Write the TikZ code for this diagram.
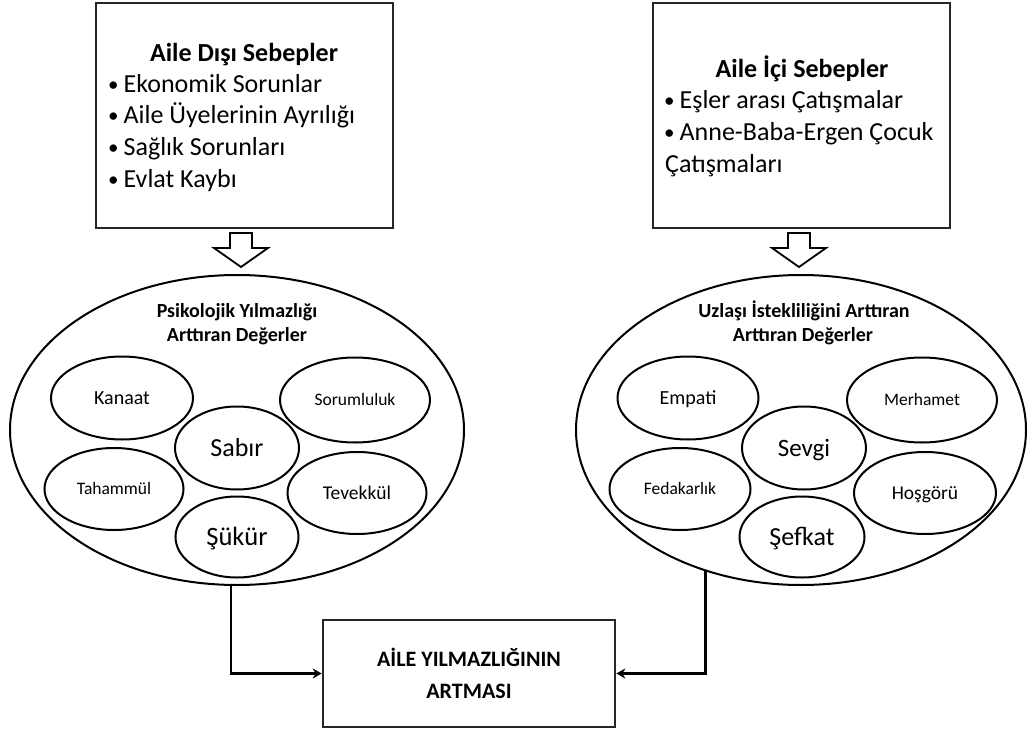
\documentclass[tikz,border=0pt]{standalone}
\usepackage{fontspec}
\setmainfont{Carlito}
\usetikzlibrary{shapes.geometric,arrows.meta,calc}
\newcommand{\mybul}{{\fontsize{21}{21}\selectfont\raisebox{1pt}{•}}\hspace{5pt}}
\begin{document}
\begin{tikzpicture}[x=1pt,y=-1pt,
  boxframe/.style={draw=black!85,line width=2.6pt,rectangle,inner sep=0pt},
  bigell/.style={draw=black,line width=2pt,ellipse,inner sep=0pt},
  smallell/.style={draw=black,line width=2pt,ellipse,inner sep=0pt,text depth=0pt},
  sl/.style 2 args={font=\fontsize{#1}{#1}\selectfont,text height=#2},
  boxtxt/.style={anchor=base west,inner sep=0pt,font=\fontsize{26}{31}\selectfont},
  boxtitle/.style={anchor=base,inner sep=0pt,font=\fontsize{26}{31}\selectfont\bfseries},
  elltitle/.style={anchor=base,inner sep=0pt,font=\fontsize{20}{23}\selectfont\bfseries},
  hollow/.style={draw=black,line width=1.8pt,fill=white,line join=miter},
  conn/.style={draw=black,line width=2.4pt,-{Stealth[length=9pt,width=10pt]}}
]
\useasboundingbox[fill=white] (0,0) rectangle (1028,733);

% top boxes
\node[boxframe,minimum width=297pt,minimum height=225pt] (boxL) at (244.5,115.5) {};
\node[boxframe,minimum width=297pt,minimum height=225pt] (boxR) at (801.5,115.5) {};

\node[boxtitle] (tL) at (244,62) {Aile Dışı Sebepler};
\node[boxtxt] (l1) at (108,93) {\mybul Ekonomik Sorunlar};
\node[boxtxt] (l2) at (108,124) {\mybul Aile Üyelerinin Ayrılığı};
\node[boxtxt] (l3) at (108,156) {\mybul Sağlık Sorunları};
\node[boxtxt] (l4) at (108,187) {\mybul Evlat Kaybı};

\node[boxtitle] (tR) at (802,78) {Aile İçi Sebepler};
\node[boxtxt] (r1) at (664,109) {\mybul Eşler arası Çatışmalar};
\node[boxtxt] (r2) at (664,141) {\mybul Anne-Baba-Ergen Çocuk};
\node[boxtxt] (r3) at (665,172) {Çatışmaları};

% hollow arrows
\coordinate (aL) at (241,233);
\coordinate (aR) at (799,233);
\foreach \c in {aL,aR}{
  \draw[hollow] ($(\c)+(-11,0)$) -- ($(\c)+(11,0)$) -- ($(\c)+(11,15)$) -- ($(\c)+(27,15)$)
     -- ($(\c)+(0,34)$) -- ($(\c)+(-27,15)$) -- ($(\c)+(-11,15)$) -- cycle;
}

% big ellipses
\node[bigell,minimum width=454pt,minimum height=310pt] (elL) at (237,430) {};
\node[bigell,minimum width=450pt,minimum height=310pt] (elR) at (801,430) {};

\node[elltitle] (etL1) at (237,317) {Psikolojik Yılmazlığı};
\node[elltitle] (etL2) at (237,341) {Arttıran Değerler};
\node[elltitle] (etR1) at (804,317) {Uzlaşı İstekliliğini Arttıran};
\node[elltitle] (etR2) at (803,341) {Arttıran Değerler};

% left inner ellipses
\node[smallell,minimum width=142pt,minimum height=83pt,sl={20}{12.9pt}] (kanaat) at (122,398) {Kanaat};
\node[smallell,minimum width=150pt,minimum height=85pt,sl={17.5}{11.3pt}] (soruml) at (355,400) {Sorumluluk};
\node[smallell,minimum width=124pt,minimum height=83pt,sl={26}{16.7pt}] (sabir) at (237,448) {Sabır};
\node[smallell,minimum width=139pt,minimum height=82pt,sl={17.5}{11.3pt}] (taham) at (114,489) {Tahammül};
\node[smallell,minimum width=139pt,minimum height=82pt,sl={19.5}{12.6pt}] (tevek) at (357,493) {Tevekkül};
\node[smallell,minimum width=123pt,minimum height=81pt,sl={26.5}{17.1pt}] (sukur) at (237,537) {Şükür};

% right inner ellipses
\node[smallell,minimum width=141pt,minimum height=83pt,sl={20}{12.9pt}] (empati) at (688,398) {Empati};
\node[smallell,minimum width=150pt,minimum height=85pt,sl={17.5}{11.3pt}] (merh) at (922,400) {Merhamet};
\node[smallell,minimum width=124pt,minimum height=83pt,sl={25}{16.1pt}] (sevgi) at (804,448) {Sevgi};
\node[smallell,minimum width=141pt,minimum height=82pt,sl={17.5}{11.3pt}] (fedak) at (680,489) {Fedakarlık};
\node[smallell,minimum width=142pt,minimum height=82pt,sl={19.5}{12.6pt}] (hosg) at (925,493) {Hoşgörü};
\node[smallell,minimum width=125pt,minimum height=81pt,sl={26}{16.7pt}] (sefkat) at (802,537) {Şefkat};

% result box
\node[boxframe,minimum width=292pt,minimum height=107pt,align=center,
      font=\fontsize{22}{32}\selectfont\bfseries] (result) at (469,673.5)
      {AİLE YILMAZLIĞININ\\ARTMASI};

% connectors
\draw[conn] ([xshift=-6pt]elL.south) |- (result.west);
\draw[conn] (elR.236.6) |- (result.east);
\end{tikzpicture}
\end{document}
